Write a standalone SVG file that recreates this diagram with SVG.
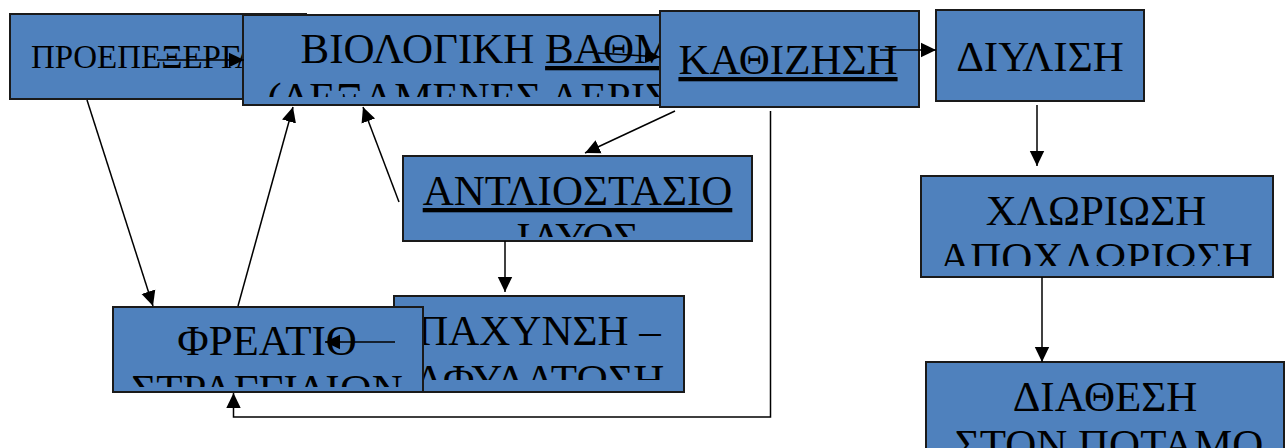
<svg xmlns="http://www.w3.org/2000/svg" width="1285" height="448" viewBox="0 0 1285 448">
  <style>
    .box { fill: #4f81bd; stroke: #1a1a1a; stroke-width: 2; }
    .lbl { font-family: "Liberation Serif", "Times New Roman", serif; font-size: 43px; fill: #000; text-anchor: middle; }
    .small { font-size: 33px; text-anchor: start; }
    .ul { text-decoration: underline; }
    .wire { fill: none; stroke: #000; stroke-width: 1.5; }
  </style>
  <defs>
    <marker id="arrow" markerUnits="userSpaceOnUse" markerWidth="16" markerHeight="16" viewBox="0 0 16 16" refX="15" refY="8" orient="auto">
      <path d="M0,0.8 L15,8 L0,15.2 Z" fill="#000"/>
    </marker>
    <!-- text areas: overflowing lines are cut at the inner bottom of each box -->
    <clipPath id="clip-bio"><rect x="244" y="16" width="560" height="81"/></clipPath>
    <clipPath id="clip-ant"><rect x="404" y="157" width="347" height="80"/></clipPath>
    <clipPath id="clip-pax"><rect x="395" y="297" width="288" height="83"/></clipPath>
    <clipPath id="clip-fre"><rect x="114" y="308" width="308" height="79"/></clipPath>
    <clipPath id="clip-xlo"><rect x="922" y="177" width="350" height="89"/></clipPath>
  </defs>

  <g id="node-proepexergasia">
    <rect class="box" x="10" y="14" width="296" height="85"/>
    <text class="lbl small" x="31" y="68">ΠΡΟΕΠΕΞΕΡΓΑΣΙΑ</text>
  </g>

  <g id="node-viologiki">
    <rect class="box" x="243" y="15" width="562" height="90"/>
    <g clip-path="url(#clip-bio)">
      <text class="lbl" x="523" y="63">ΒΙΟΛΟΓΙΚΗ <tspan class="ul">ΒΑΘΜΙΔΑ</tspan></text>
      <text class="lbl" x="525" y="112">(ΔΕΞΑΜΕΝΕΣ ΑΕΡΙΣΜΟΥ)</text>
    </g>
  </g>

  <g id="node-kathizisi">
    <rect class="box" x="660" y="11" width="259" height="96"/>
    <text class="lbl ul" x="788" y="74">ΚΑΘΙΖΗΣΗ</text>
  </g>

  <g id="node-diylisi">
    <rect class="box" x="936" y="10" width="208" height="91"/>
    <text class="lbl" x="1040" y="71">ΔΙΥΛΙΣΗ</text>
  </g>

  <g id="node-antliostasio">
    <rect class="box" x="403" y="156" width="349" height="85"/>
    <g clip-path="url(#clip-ant)">
      <text class="lbl ul" x="577.5" y="205">ΑΝΤΛΙΟΣΤΑΣΙΟ</text>
      <text class="lbl" x="577.5" y="252">ΙΛΥΟΣ</text>
    </g>
  </g>

  <g id="node-paxynsi">
    <rect class="box" x="394" y="296" width="290" height="96"/>
    <g clip-path="url(#clip-pax)">
      <text class="lbl" x="539" y="345">ΠΑΧΥΝΣΗ –</text>
      <text class="lbl" x="539" y="394">ΑΦΥΔΑΤΩΣΗ</text>
    </g>
  </g>

  <g id="node-freatio">
    <rect class="box" x="113" y="307" width="310" height="85"/>
    <g clip-path="url(#clip-fre)">
      <text class="lbl" x="267" y="355">ΦΡΕΑΤΙΟ</text>
      <text class="lbl" x="267" y="404">ΣΤΡΑΓΓΙΔΙΩΝ</text>
    </g>
  </g>

  <g id="node-xloriosi">
    <rect class="box" x="921" y="176" width="352" height="101"/>
    <g clip-path="url(#clip-xlo)">
      <text class="lbl" x="1096" y="225">ΧΛΩΡΙΩΣΗ</text>
      <text class="lbl" x="1096" y="272">ΑΠΟΧΛΩΡΙΩΣΗ</text>
    </g>
  </g>

  <g id="node-diathesi">
    <rect class="box" x="926" y="362" width="358" height="110"/>
    <text class="lbl" x="1105" y="411">ΔΙΑΘΕΣΗ</text>
    <text class="lbl" x="1109" y="459">ΣΤΟΝ ΠΟΤΑΜΟ</text>
  </g>

  <g id="connectors">
    <line class="wire" x1="157" y1="60" x2="244" y2="60" marker-end="url(#arrow)"/>
    <line class="wire" x1="598" y1="53" x2="660" y2="57" marker-end="url(#arrow)"/>
    <line class="wire" x1="880" y1="50" x2="936" y2="50" marker-end="url(#arrow)"/>
    <line class="wire" x1="1037" y1="105" x2="1037" y2="166" marker-end="url(#arrow)"/>
    <line class="wire" x1="1042" y1="277" x2="1042" y2="362" marker-end="url(#arrow)"/>
    <line class="wire" x1="675" y1="111" x2="585" y2="153" marker-end="url(#arrow)"/>
    <line class="wire" x1="505" y1="241" x2="505" y2="292" marker-end="url(#arrow)"/>
    <line class="wire" x1="399" y1="202" x2="363" y2="107" marker-end="url(#arrow)"/>
    <line class="wire" x1="87" y1="100" x2="153" y2="306" marker-end="url(#arrow)"/>
    <line class="wire" x1="238" y1="306" x2="293" y2="107" marker-end="url(#arrow)"/>
    <line class="wire" x1="395" y1="342" x2="325" y2="342" marker-end="url(#arrow)"/>
    <polyline class="wire" points="770.5,111 770.5,417 233.5,417 233.5,393" marker-end="url(#arrow)"/>
  </g>
</svg>
